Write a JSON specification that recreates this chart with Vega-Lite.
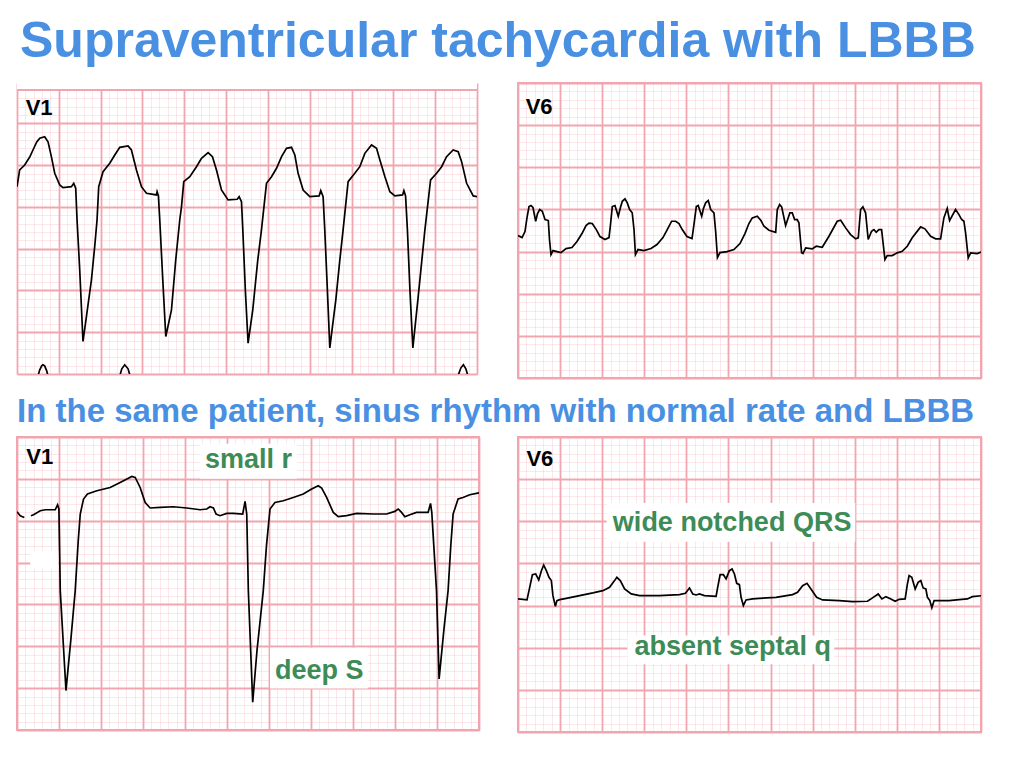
{
  "$schema": "https://vega.github.io/schema/vega-lite/v6.json",
  "background": "white",
  "padding": {"left": 16, "top": 16, "right": 5, "bottom": 5},
  "bounds": "full",
  "spacing": 17,
  "title": {"text": "Supraventricular tachycardia with LBBB", "font": "Liberation Sans", "fontSize": 50, "fontWeight": "bold", "color": "#4a90e2", "anchor": "start", "offset": 15.5, "dx": 4},
  "config": {
    "view": {"stroke": "#f3a5af", "strokeWidth": 2, "fill": "white"},
    "axis": {"labels": false, "ticks": false, "domain": false, "minExtent": 0, "maxExtent": 0, "grid": true, "gridColor": "#f3a5af"}
  },
  "datasets": {
    "tl": [
      {"s":1,"x":0,"y":2.43},{"s":1,"x":0.32,"y":4.43},{"s":1,"x":0.92,"y":5.02},{"s":1,"x":1.52,"y":5.98},{"s":1,"x":1.91,"y":6.82},{"s":1,"x":2.36,"y":7.78},{"s":1,"x":2.72,"y":8.22},{"s":1,"x":3.31,"y":8.41},{"s":1,"x":3.71,"y":7.81},{"s":1,"x":4.11,"y":6.02},{"s":1,"x":4.51,"y":4.03},{"s":1,"x":5.11,"y":2.63},{"s":1,"x":5.5,"y":2.31},{"s":1,"x":6.51,"y":2.43},{"s":1,"x":6.78,"y":2.83},{"s":1,"x":7.02,"y":2.24},{"s":1,"x":7.18,"y":-1.56},{"s":1,"x":7.5,"y":-7.54},{"s":1,"x":7.89,"y":-16.11},{"s":1,"x":8.3,"y":-13.12},{"s":1,"x":8.9,"y":-8.73},{"s":1,"x":9.29,"y":-4.75},{"s":1,"x":9.57,"y":-1.56},{"s":1,"x":9.77,"y":2.43},{"s":1,"x":10.29,"y":4.22},{"s":1,"x":11.09,"y":5.23},{"s":1,"x":11.69,"y":6.22},{"s":1,"x":12.29,"y":7.14},{"s":1,"x":13.28,"y":7.3},{"s":1,"x":13.68,"y":6.82},{"s":1,"x":14.28,"y":4.43},{"s":1,"x":14.88,"y":2.43},{"s":1,"x":15.48,"y":1.64},{"s":1,"x":16.67,"y":1.44},{"s":1,"x":16.75,"y":1.83},{"s":1,"x":16.91,"y":1.32},{"s":1,"x":17.07,"y":-1.56},{"s":1,"x":17.43,"y":-8.73},{"s":1,"x":17.79,"y":-15.51},{"s":1,"x":18.47,"y":-12.32},{"s":1,"x":18.98,"y":-6.34},{"s":1,"x":19.46,"y":-1.56},{"s":1,"x":19.67,"y":0.04},{"s":1,"x":19.94,"y":3.03},{"s":1,"x":20.66,"y":3.62},{"s":1,"x":21.46,"y":4.82},{"s":1,"x":22.06,"y":5.83},{"s":1,"x":22.85,"y":6.5},{"s":1,"x":23.37,"y":6.02},{"s":1,"x":23.85,"y":4.43},{"s":1,"x":24.45,"y":2.03},{"s":1,"x":25.24,"y":0.84},{"s":1,"x":26.32,"y":0.92},{"s":1,"x":26.56,"y":1.23},{"s":1,"x":26.84,"y":0.63},{"s":1,"x":27.0,"y":-2.75},{"s":1,"x":27.3,"y":-9.93},{"s":1,"x":27.63,"y":-16.3},{"s":1,"x":28.19,"y":-12.32},{"s":1,"x":28.79,"y":-6.34},{"s":1,"x":29.23,"y":-2.75},{"s":1,"x":29.83,"y":2.83},{"s":1,"x":30.43,"y":3.62},{"s":1,"x":31.03,"y":4.63},{"s":1,"x":31.63,"y":6.02},{"s":1,"x":32.22,"y":7.02},{"s":1,"x":32.82,"y":7.14},{"s":1,"x":33.22,"y":6.22},{"s":1,"x":33.61,"y":4.03},{"s":1,"x":34.21,"y":2.03},{"s":1,"x":35.01,"y":1.23},{"s":1,"x":36.12,"y":1.32},{"s":1,"x":36.32,"y":1.95},{"s":1,"x":36.6,"y":1.23},{"s":1,"x":36.8,"y":-2.75},{"s":1,"x":37.11,"y":-9.93},{"s":1,"x":37.4,"y":-16.87},{"s":1,"x":38.12,"y":-11.12},{"s":1,"x":38.6,"y":-6.34},{"s":1,"x":38.99,"y":-2.75},{"s":1,"x":39.59,"y":3.03},{"s":1,"x":40.39,"y":4.03},{"s":1,"x":40.99,"y":4.82},{"s":1,"x":41.59,"y":6.42},{"s":1,"x":42.39,"y":7.42},{"s":1,"x":42.99,"y":7.02},{"s":1,"x":43.39,"y":5.62},{"s":1,"x":43.99,"y":3.62},{"s":1,"x":44.58,"y":1.83},{"s":1,"x":45.18,"y":1.32},{"s":1,"x":46.1,"y":1.44},{"s":1,"x":46.26,"y":1.95},{"s":1,"x":46.46,"y":1.32},{"s":1,"x":46.68,"y":-2.75},{"s":1,"x":46.98,"y":-9.93},{"s":1,"x":47.33,"y":-16.87},{"s":1,"x":47.93,"y":-11.12},{"s":1,"x":48.41,"y":-6.34},{"s":1,"x":48.77,"y":-2.75},{"s":1,"x":49.45,"y":3.23},{"s":1,"x":50.17,"y":4.03},{"s":1,"x":50.77,"y":4.82},{"s":1,"x":51.36,"y":6.02},{"s":1,"x":52.15,"y":6.82},{"s":1,"x":52.75,"y":6.61},{"s":1,"x":53.16,"y":5.42},{"s":1,"x":53.76,"y":2.83},{"s":1,"x":54.55,"y":1.32},{"s":1,"x":55.35,"y":1.16},
      {"s":2,"x":2.51,"y":-20.22},{"s":2,"x":2.72,"y":-19.5},{"s":2,"x":2.95,"y":-19.02},{"s":2,"x":3.11,"y":-18.9},{"s":2,"x":3.31,"y":-19.02},{"s":2,"x":3.55,"y":-19.62},{"s":2,"x":3.71,"y":-20.22},
      {"s":3,"x":12.29,"y":-20.22},{"s":3,"x":12.53,"y":-19.38},{"s":3,"x":12.88,"y":-18.9},{"s":3,"x":13.28,"y":-19.38},{"s":3,"x":13.52,"y":-20.22},
      {"s":4,"x":52.72,"y":-20.22},{"s":4,"x":53.08,"y":-19.26},{"s":4,"x":53.37,"y":-18.9},{"s":4,"x":53.67,"y":-19.38},{"s":4,"x":53.91,"y":-20.22}
    ],
    "tr": [
      {"s":1,"x":0,"y":1.9},{"s":1,"x":0.48,"y":1.66},{"s":1,"x":0.83,"y":2.38},{"s":1,"x":1.07,"y":4.04},{"s":1,"x":1.31,"y":5.34},{"s":1,"x":1.54,"y":5.46},{"s":1,"x":1.78,"y":5.23},{"s":1,"x":2.1,"y":3.6},{"s":1,"x":2.32,"y":4.51},{"s":1,"x":2.58,"y":4.99},{"s":1,"x":2.89,"y":4.79},{"s":1,"x":3.21,"y":3.8},{"s":1,"x":3.6,"y":3.68},{"s":1,"x":3.74,"y":1.43},{"s":1,"x":3.92,"y":-0.36},{"s":1,"x":4.16,"y":0.12},{"s":1,"x":4.63,"y":0},{"s":1,"x":5.11,"y":-0.12},{"s":1,"x":5.7,"y":0.36},{"s":1,"x":6.41,"y":0.48},{"s":1,"x":7.01,"y":1.19},{"s":1,"x":7.6,"y":2.14},{"s":1,"x":8.08,"y":3.09},{"s":1,"x":8.43,"y":3.38},{"s":1,"x":8.82,"y":3.33},{"s":1,"x":9.3,"y":2.61},{"s":1,"x":9.74,"y":1.78},{"s":1,"x":10.33,"y":1.43},{"s":1,"x":10.81,"y":1.66},{"s":1,"x":10.99,"y":3.21},{"s":1,"x":11.2,"y":5.34},{"s":1,"x":11.52,"y":5.46},{"s":1,"x":11.91,"y":4.19},{"s":1,"x":12.17,"y":5.23},{"s":1,"x":12.39,"y":5.97},{"s":1,"x":12.71,"y":6.26},{"s":1,"x":12.98,"y":5.78},{"s":1,"x":13.26,"y":4.99},{"s":1,"x":13.57,"y":4.6},{"s":1,"x":13.78,"y":2.61},{"s":1,"x":13.95,"y":-0.36},{"s":1,"x":14.25,"y":0.24},{"s":1,"x":14.96,"y":0.12},{"s":1,"x":15.8,"y":0.36},{"s":1,"x":16.51,"y":0.83},{"s":1,"x":17.22,"y":1.66},{"s":1,"x":17.73,"y":2.61},{"s":1,"x":18.25,"y":3.6},{"s":1,"x":18.73,"y":3.6},{"s":1,"x":19.12,"y":3.33},{"s":1,"x":19.51,"y":2.61},{"s":1,"x":20.07,"y":1.78},{"s":1,"x":20.67,"y":1.54},{"s":1,"x":20.9,"y":3.21},{"s":1,"x":21.18,"y":5.34},{"s":1,"x":21.41,"y":5.46},{"s":1,"x":21.82,"y":4.19},{"s":1,"x":22.03,"y":5.11},{"s":1,"x":22.29,"y":5.78},{"s":1,"x":22.6,"y":6.06},{"s":1,"x":22.89,"y":4.99},{"s":1,"x":23.28,"y":4.6},{"s":1,"x":23.48,"y":2.38},{"s":1,"x":23.69,"y":-0.71},{"s":1,"x":23.99,"y":-0.12},{"s":1,"x":24.82,"y":0},{"s":1,"x":25.65,"y":0.24},{"s":1,"x":26.37,"y":0.95},{"s":1,"x":26.96,"y":2.14},{"s":1,"x":27.43,"y":3.33},{"s":1,"x":27.83,"y":4.0},{"s":1,"x":28.42,"y":4.19},{"s":1,"x":28.86,"y":3.68},{"s":1,"x":29.22,"y":3.0},{"s":1,"x":29.81,"y":2.53},{"s":1,"x":30.61,"y":2.29},{"s":1,"x":30.8,"y":4.99},{"s":1,"x":31.08,"y":5.58},{"s":1,"x":31.32,"y":5.31},{"s":1,"x":31.79,"y":3.09},{"s":1,"x":32.3,"y":4.6},{"s":1,"x":32.58,"y":4.6},{"s":1,"x":32.86,"y":3.8},{"s":1,"x":33.17,"y":3.8},{"s":1,"x":33.37,"y":3.41},{"s":1,"x":33.69,"y":-0.15},{"s":1,"x":33.85,"y":-0.24},{"s":1,"x":34.17,"y":0.44},{"s":1,"x":34.95,"y":0.32},{"s":1,"x":35.43,"y":0.63},{"s":1,"x":36.14,"y":0.51},{"s":1,"x":36.94,"y":1.82},{"s":1,"x":37.92,"y":3.6},{"s":1,"x":38.33,"y":3.72},{"s":1,"x":38.92,"y":2.81},{"s":1,"x":39.51,"y":2.02},{"s":1,"x":40.11,"y":1.51},{"s":1,"x":40.42,"y":1.63},{"s":1,"x":40.7,"y":4.99},{"s":1,"x":40.97,"y":5.31},{"s":1,"x":41.29,"y":4.6},{"s":1,"x":41.6,"y":1.43},{"s":1,"x":42.0,"y":2.41},{"s":1,"x":42.28,"y":2.61},{"s":1,"x":42.55,"y":2.29},{"s":1,"x":42.87,"y":2.61},{"s":1,"x":43.19,"y":2.61},{"s":1,"x":43.59,"y":-0.95},{"s":1,"x":43.86,"y":-0.48},{"s":1,"x":44.45,"y":-0.48},{"s":1,"x":45.05,"y":-0.15},{"s":1,"x":45.64,"y":0.04},{"s":1,"x":46.24,"y":0.63},{"s":1,"x":46.83,"y":1.63},{"s":1,"x":47.83,"y":2.93},{"s":1,"x":48.34,"y":2.7},{"s":1,"x":49.02,"y":1.82},{"s":1,"x":49.61,"y":1.51},{"s":1,"x":50.2,"y":1.51},{"s":1,"x":50.59,"y":4.0},{"s":1,"x":50.99,"y":5.11},{"s":1,"x":51.27,"y":3.68},{"s":1,"x":51.98,"y":4.99},{"s":1,"x":52.38,"y":4.39},{"s":1,"x":52.7,"y":3.8},{"s":1,"x":52.97,"y":3.6},{"s":1,"x":53.17,"y":2.22},{"s":1,"x":53.48,"y":-0.75},{"s":1,"x":53.77,"y":-0.15},{"s":1,"x":54.55,"y":-0.24},{"s":1,"x":55.14,"y":0}
    ],
    "bl": [
      {"s":1,"x":0,"y":1.07},{"s":1,"x":0.39,"y":0.6},{"s":1,"x":0.87,"y":0.39},
      {"s":2,"x":1.66,"y":0.6},{"s":2,"x":1.97,"y":0.72},{"s":2,"x":2.77,"y":1.19},{"s":2,"x":3.37,"y":1.31},{"s":2,"x":4.55,"y":1.31},{"s":2,"x":4.83,"y":1.91},{"s":2,"x":4.99,"y":1.4},{"s":2,"x":5.15,"y":-8.35},{"s":2,"x":5.83,"y":-20.29},{"s":2,"x":6.4,"y":-14.32},{"s":2,"x":6.93,"y":-8.35},{"s":2,"x":7.29,"y":-2.39},{"s":2,"x":7.53,"y":0.8},{"s":2,"x":7.92,"y":2.59},{"s":2,"x":8.39,"y":3.19},{"s":2,"x":9.51,"y":3.58},{"s":2,"x":11.09,"y":3.97},{"s":2,"x":12.28,"y":4.57},{"s":2,"x":13.67,"y":5.29},{"s":2,"x":14.07,"y":5.17},{"s":2,"x":14.66,"y":3.97},{"s":2,"x":15.26,"y":2.18},{"s":2,"x":15.85,"y":1.52},{"s":2,"x":17.04,"y":1.59},{"s":2,"x":18.62,"y":1.67},{"s":2,"x":20.21,"y":1.52},{"s":2,"x":21.8,"y":1.31},{"s":2,"x":22.59,"y":1.4},{"s":2,"x":22.98,"y":1.67},{"s":2,"x":23.38,"y":1.52},{"s":2,"x":23.7,"y":0.8},{"s":2,"x":24.17,"y":0.6},{"s":2,"x":24.97,"y":0.87},{"s":2,"x":25.76,"y":0.87},{"s":2,"x":26.87,"y":0.8},{"s":2,"x":27.15,"y":2.3},{"s":2,"x":27.35,"y":0.8},{"s":2,"x":27.54,"y":-8.35},{"s":2,"x":28.06,"y":-21.68},{"s":2,"x":28.57,"y":-15.51},{"s":2,"x":29.32,"y":-8.35},{"s":2,"x":29.7,"y":-2.98},{"s":2,"x":30.12,"y":1.4},{"s":2,"x":30.71,"y":2.18},{"s":2,"x":31.7,"y":2.39},{"s":2,"x":32.89,"y":2.78},{"s":2,"x":34.08,"y":3.19},{"s":2,"x":35.08,"y":3.78},{"s":2,"x":35.86,"y":4.18},{"s":2,"x":36.27,"y":3.9},{"s":2,"x":36.86,"y":2.78},{"s":2,"x":37.65,"y":0.99},{"s":2,"x":38.24,"y":0.48},{"s":2,"x":39.24,"y":0.6},{"s":2,"x":40.43,"y":0.87},{"s":2,"x":42.4,"y":0.8},{"s":2,"x":44.0,"y":0.8},{"s":2,"x":44.98,"y":1.11},{"s":2,"x":45.38,"y":1.4},{"s":2,"x":45.78,"y":0.99},{"s":2,"x":46.17,"y":0.48},{"s":2,"x":46.77,"y":0.72},{"s":2,"x":47.56,"y":0.99},{"s":2,"x":48.94,"y":0.99},{"s":2,"x":49.23,"y":2.06},{"s":2,"x":49.38,"y":0.99},{"s":2,"x":49.94,"y":-8.35},{"s":2,"x":50.25,"y":-18.89},{"s":2,"x":50.81,"y":-13.13},{"s":2,"x":51.32,"y":-8.35},{"s":2,"x":51.64,"y":-2.98},{"s":2,"x":51.92,"y":0.8},{"s":2,"x":52.51,"y":2.59},{"s":2,"x":53.1,"y":2.78},{"s":2,"x":53.9,"y":3.1},{"s":2,"x":54.7,"y":3.26},{"s":2,"x":55.29,"y":3.38}
    ],
    "br": [
      {"s":1,"x":0,"y":0.79},{"s":1,"x":1.07,"y":0.67},{"s":1,"x":1.39,"y":2.16},{"s":1,"x":1.71,"y":3.66},{"s":1,"x":2.1,"y":3.75},{"s":1,"x":2.46,"y":3.04},{"s":1,"x":2.78,"y":4.14},{"s":1,"x":3.05,"y":4.81},{"s":1,"x":3.37,"y":4.14},{"s":1,"x":3.68,"y":3.35},{"s":1,"x":3.96,"y":2.96},{"s":1,"x":4.15,"y":1.18},{"s":1,"x":4.44,"y":-0.08},{"s":1,"x":4.63,"y":0.59},{"s":1,"x":4.95,"y":0.71},{"s":1,"x":5.74,"y":0.86},{"s":1,"x":7.32,"y":1.18},{"s":1,"x":8.9,"y":1.5},{"s":1,"x":10.08,"y":1.77},{"s":1,"x":10.88,"y":2.16},{"s":1,"x":11.47,"y":2.96},{"s":1,"x":11.74,"y":3.35},{"s":1,"x":12.15,"y":2.96},{"s":1,"x":12.66,"y":1.97},{"s":1,"x":13.45,"y":1.38},{"s":1,"x":14.44,"y":1.18},{"s":1,"x":16.81,"y":1.18},{"s":1,"x":19.18,"y":1.3},{"s":1,"x":19.89,"y":1.45},{"s":1,"x":20.37,"y":2.09},{"s":1,"x":20.76,"y":1.38},{"s":1,"x":21.16,"y":1.26},{"s":1,"x":21.55,"y":1.38},{"s":1,"x":22.15,"y":1.18},{"s":1,"x":23.53,"y":1.1},{"s":1,"x":23.72,"y":2.16},{"s":1,"x":24.01,"y":3.66},{"s":1,"x":24.4,"y":3.66},{"s":1,"x":24.72,"y":3.16},{"s":1,"x":25.11,"y":4.14},{"s":1,"x":25.43,"y":4.34},{"s":1,"x":25.71,"y":3.75},{"s":1,"x":25.98,"y":2.64},{"s":1,"x":26.3,"y":2.48},{"s":1,"x":26.5,"y":0.98},{"s":1,"x":26.77,"y":0},{"s":1,"x":27.09,"y":0.67},{"s":1,"x":27.88,"y":0.79},{"s":1,"x":28.67,"y":0.86},{"s":1,"x":30.65,"y":0.98},{"s":1,"x":32.62,"y":1.3},{"s":1,"x":33.21,"y":1.57},{"s":1,"x":33.81,"y":2.36},{"s":1,"x":34.33,"y":2.64},{"s":1,"x":34.8,"y":1.97},{"s":1,"x":35.47,"y":0.98},{"s":1,"x":36.18,"y":0.67},{"s":1,"x":38.16,"y":0.59},{"s":1,"x":39.74,"y":0.47},{"s":1,"x":41.52,"y":0.51},{"s":1,"x":42.11,"y":0.91},{"s":1,"x":42.79,"y":1.38},{"s":1,"x":43.23,"y":0.79},{"s":1,"x":43.7,"y":1.06},{"s":1,"x":44.29,"y":0.79},{"s":1,"x":44.8,"y":0.51},{"s":1,"x":45.28,"y":0.74},{"s":1,"x":45.99,"y":0.79},{"s":1,"x":46.26,"y":2.56},{"s":1,"x":46.46,"y":3.55},{"s":1,"x":46.78,"y":3.35},{"s":1,"x":47.18,"y":1.97},{"s":1,"x":47.53,"y":2.75},{"s":1,"x":47.85,"y":2.96},{"s":1,"x":48.13,"y":2.09},{"s":1,"x":48.45,"y":1.97},{"s":1,"x":48.64,"y":0.98},{"s":1,"x":48.92,"y":0.59},{"s":1,"x":49.16,"y":-0.27},{"s":1,"x":49.43,"y":0.59},{"s":1,"x":50.02,"y":0.59},{"s":1,"x":51.21,"y":0.59},{"s":1,"x":52.4,"y":0.71},{"s":1,"x":53.38,"y":0.79},{"s":1,"x":53.97,"y":1.06},{"s":1,"x":55.16,"y":1.18}
    ],
    "leads": [
      {"p":"tl","x":1.04,"y":11.0,"label":"V1"},
      {"p":"tr","x":0.91,"y":16.27,"label":"V6"},
      {"p":"bl","x":1.11,"y":6.77,"label":"V1"},
      {"p":"br","x":1.0,"y":16.55,"label":"V6"}
    ],
    "ann": [
      {"p":"tl","x1":-0.2,"x2":55.2,"y1":14,"y2":14.84,"tx":0,"ty":14,"label":""},
      {"p":"bl","x1":21.8,"x2":33.33,"y1":9.19,"y2":5.01,"tx":22.39,"ty":6.29,"label":"small r"},
      {"p":"bl","x1":30.12,"x2":41.77,"y1":-15.16,"y2":-20.05,"tx":30.71,"ty":-18.89,"label":"deep S"},
      {"p":"bl","x1":1.58,"x2":4.91,"y1":-3.58,"y2":-5.73,"tx":1.58,"ty":-5.73,"label":""},
      {"p":"br","x1":10.52,"x2":40.06,"y1":12.17,"y2":7.57,"tx":11.27,"ty":8.87,"label":"wide notched QRS"},
      {"p":"br","x1":13.01,"x2":37.57,"y1":-3.55,"y2":-6.97,"tx":13.84,"ty":-5.91,"label":"absent septal q"}
    ]
  },
  "vconcat": [
    {
      "spacing": 40,
      "hconcat": [
        {
          "width": 460, "height": 291,
          "view": {"stroke": null},
          "resolve": {"axis": {"x": "independent", "y": "independent"}},
          "layer": [
            {"data": {"name": "tl"}, "mark": {"type": "line", "color": "#000000", "strokeWidth": 1.7, "clip": true},
             "encoding": {
               "x": {"field": "x", "type": "quantitative", "scale": {"domain": [0, 55], "nice": false, "zero": false}, "axis": {"title": null, "grid": true, "tickCount": 55, "gridOpacity": 0.25, "gridWidth": 1}},
               "y": {"field": "y", "type": "quantitative", "scale": {"domain": [-20, 14.84], "nice": false, "zero": false}, "axis": {"title": null, "grid": true, "tickCount": 34, "gridOpacity": 0.25, "gridWidth": 1}},
               "detail": {"field": "s"}}},
            {"data": {"name": "leads"}, "transform": [{"filter": "datum.p === 'tl'"}],
             "mark": {"type": "text", "font": "Liberation Sans", "fontWeight": "bold", "fontSize": 22, "align": "left", "baseline": "alphabetic", "color": "#000000"},
             "encoding": {
               "x": {"field": "x", "type": "quantitative", "scale": {"domain": [0, 55], "nice": false, "zero": false}, "axis": {"title": null, "grid": true, "gridOpacity": 1, "tickCount": 11, "gridWidth": 1.8}},
               "y": {"field": "y", "type": "quantitative", "scale": {"domain": [-20, 14.84], "nice": false, "zero": false}, "axis": {"title": null, "grid": true, "gridOpacity": 1, "tickCount": 7, "gridWidth": 1.8}},
               "text": {"field": "label"}}},
            {"data": {"name": "ann"}, "transform": [{"filter": "datum.p === 'tl'"}],
             "mark": {"type": "rect", "color": "#ffffff", "opacity": 1, "clip": true},
             "encoding": {
               "x": {"field": "x1", "type": "quantitative", "axis": null}, "x2": {"field": "x2"},
               "y": {"field": "y1", "type": "quantitative", "axis": null}, "y2": {"field": "y2"}}},
            {"data": {"name": "ann"}, "transform": [{"filter": "datum.p === 'tl'"}],
             "mark": {"type": "rule", "color": "#f3a5af", "strokeWidth": 2, "clip": true},
             "encoding": {
               "x": {"field": "x1", "type": "quantitative", "axis": null}, "x2": {"field": "x2"},
               "y": {"field": "ty", "type": "quantitative", "axis": null}}}
          ]
        },
        {
          "width": 463, "height": 295,
          "resolve": {"axis": {"x": "independent", "y": "independent"}},
          "layer": [
            {"data": {"name": "tr"}, "mark": {"type": "line", "color": "#000000", "strokeWidth": 1.7, "clip": true},
             "encoding": {
               "x": {"field": "x", "type": "quantitative", "scale": {"domain": [0, 55], "nice": false, "zero": false}, "axis": {"title": null, "grid": true, "tickCount": 55, "gridOpacity": 0.25, "gridWidth": 1}},
               "y": {"field": "y", "type": "quantitative", "scale": {"domain": [-15, 20], "nice": false, "zero": false}, "axis": {"title": null, "grid": true, "tickCount": 35, "gridOpacity": 0.25, "gridWidth": 1}},
               "detail": {"field": "s"}}},
            {"data": {"name": "leads"}, "transform": [{"filter": "datum.p === 'tr'"}],
             "mark": {"type": "text", "font": "Liberation Sans", "fontWeight": "bold", "fontSize": 22, "align": "left", "baseline": "alphabetic", "color": "#000000"},
             "encoding": {
               "x": {"field": "x", "type": "quantitative", "scale": {"domain": [0, 55], "nice": false, "zero": false}, "axis": {"title": null, "grid": true, "gridOpacity": 1, "tickCount": 11, "gridWidth": 1.8}},
               "y": {"field": "y", "type": "quantitative", "scale": {"domain": [-15, 20], "nice": false, "zero": false}, "axis": {"title": null, "grid": true, "gridOpacity": 1, "tickCount": 7, "gridWidth": 1.8}},
               "text": {"field": "label"}}}
          ]
        }
      ]
    },
    {
      "spacing": 37,
      "title": {"text": "In the same patient, sinus rhythm with normal rate and LBBB", "font": "Liberation Sans", "fontSize": 33, "fontWeight": "bold", "color": "#4a90e2", "anchor": "start", "offset": 7, "dx": 1},
      "hconcat": [
        {
          "width": 462, "height": 293,
          "resolve": {"axis": {"x": "independent", "y": "independent"}},
          "layer": [
            {"data": {"name": "bl"}, "mark": {"type": "line", "color": "#000000", "strokeWidth": 1.7, "clip": true},
             "encoding": {
               "x": {"field": "x", "type": "quantitative", "scale": {"domain": [0, 55], "nice": false, "zero": false}, "axis": {"title": null, "grid": true, "tickCount": 55, "gridOpacity": 0.25, "gridWidth": 1}},
               "y": {"field": "y", "type": "quantitative", "scale": {"domain": [-25, 10], "nice": false, "zero": false}, "axis": {"title": null, "grid": true, "tickCount": 35, "gridOpacity": 0.25, "gridWidth": 1}},
               "detail": {"field": "s"}}},
            {"data": {"name": "leads"}, "transform": [{"filter": "datum.p === 'bl'"}],
             "mark": {"type": "text", "font": "Liberation Sans", "fontWeight": "bold", "fontSize": 22, "align": "left", "baseline": "alphabetic", "color": "#000000"},
             "encoding": {
               "x": {"field": "x", "type": "quantitative", "scale": {"domain": [0, 55], "nice": false, "zero": false}, "axis": {"title": null, "grid": true, "gridOpacity": 1, "tickCount": 11, "gridWidth": 1.8}},
               "y": {"field": "y", "type": "quantitative", "scale": {"domain": [-25, 10], "nice": false, "zero": false}, "axis": {"title": null, "grid": true, "gridOpacity": 1, "tickCount": 7, "gridWidth": 1.8}},
               "text": {"field": "label"}}},
            {"data": {"name": "ann"}, "transform": [{"filter": "datum.p === 'bl'"}],
             "mark": {"type": "rect", "color": "#ffffff", "opacity": 1},
             "encoding": {
               "x": {"field": "x1", "type": "quantitative", "axis": null}, "x2": {"field": "x2"},
               "y": {"field": "y1", "type": "quantitative", "axis": null}, "y2": {"field": "y2"}}},
            {"data": {"name": "ann"}, "transform": [{"filter": "datum.p === 'bl' && datum.label !== ''"}],
             "mark": {"type": "text", "font": "Liberation Sans", "fontWeight": "bold", "fontSize": 27, "align": "left", "baseline": "alphabetic", "color": "#3d8b57"},
             "encoding": {
               "x": {"field": "tx", "type": "quantitative", "axis": null},
               "y": {"field": "ty", "type": "quantitative", "axis": null},
               "text": {"field": "label"}}}
          ]
        },
        {
          "width": 463, "height": 295,
          "resolve": {"axis": {"x": "independent", "y": "independent"}},
          "layer": [
            {"data": {"name": "br"}, "mark": {"type": "line", "color": "#000000", "strokeWidth": 1.7, "clip": true},
             "encoding": {
               "x": {"field": "x", "type": "quantitative", "scale": {"domain": [0, 55], "nice": false, "zero": false}, "axis": {"title": null, "grid": true, "tickCount": 55, "gridOpacity": 0.25, "gridWidth": 1}},
               "y": {"field": "y", "type": "quantitative", "scale": {"domain": [-15, 20], "nice": false, "zero": false}, "axis": {"title": null, "grid": true, "tickCount": 35, "gridOpacity": 0.25, "gridWidth": 1}},
               "detail": {"field": "s"}}},
            {"data": {"name": "leads"}, "transform": [{"filter": "datum.p === 'br'"}],
             "mark": {"type": "text", "font": "Liberation Sans", "fontWeight": "bold", "fontSize": 22, "align": "left", "baseline": "alphabetic", "color": "#000000"},
             "encoding": {
               "x": {"field": "x", "type": "quantitative", "scale": {"domain": [0, 55], "nice": false, "zero": false}, "axis": {"title": null, "grid": true, "gridOpacity": 1, "tickCount": 11, "gridWidth": 1.8}},
               "y": {"field": "y", "type": "quantitative", "scale": {"domain": [-15, 20], "nice": false, "zero": false}, "axis": {"title": null, "grid": true, "gridOpacity": 1, "tickCount": 7, "gridWidth": 1.8}},
               "text": {"field": "label"}}},
            {"data": {"name": "ann"}, "transform": [{"filter": "datum.p === 'br'"}],
             "mark": {"type": "rect", "color": "#ffffff", "opacity": 1},
             "encoding": {
               "x": {"field": "x1", "type": "quantitative", "axis": null}, "x2": {"field": "x2"},
               "y": {"field": "y1", "type": "quantitative", "axis": null}, "y2": {"field": "y2"}}},
            {"data": {"name": "ann"}, "transform": [{"filter": "datum.p === 'br' && datum.label !== ''"}],
             "mark": {"type": "text", "font": "Liberation Sans", "fontWeight": "bold", "fontSize": 27, "align": "left", "baseline": "alphabetic", "color": "#3d8b57"},
             "encoding": {
               "x": {"field": "tx", "type": "quantitative", "axis": null},
               "y": {"field": "ty", "type": "quantitative", "axis": null},
               "text": {"field": "label"}}}
          ]
        }
      ]
    }
  ]
}
